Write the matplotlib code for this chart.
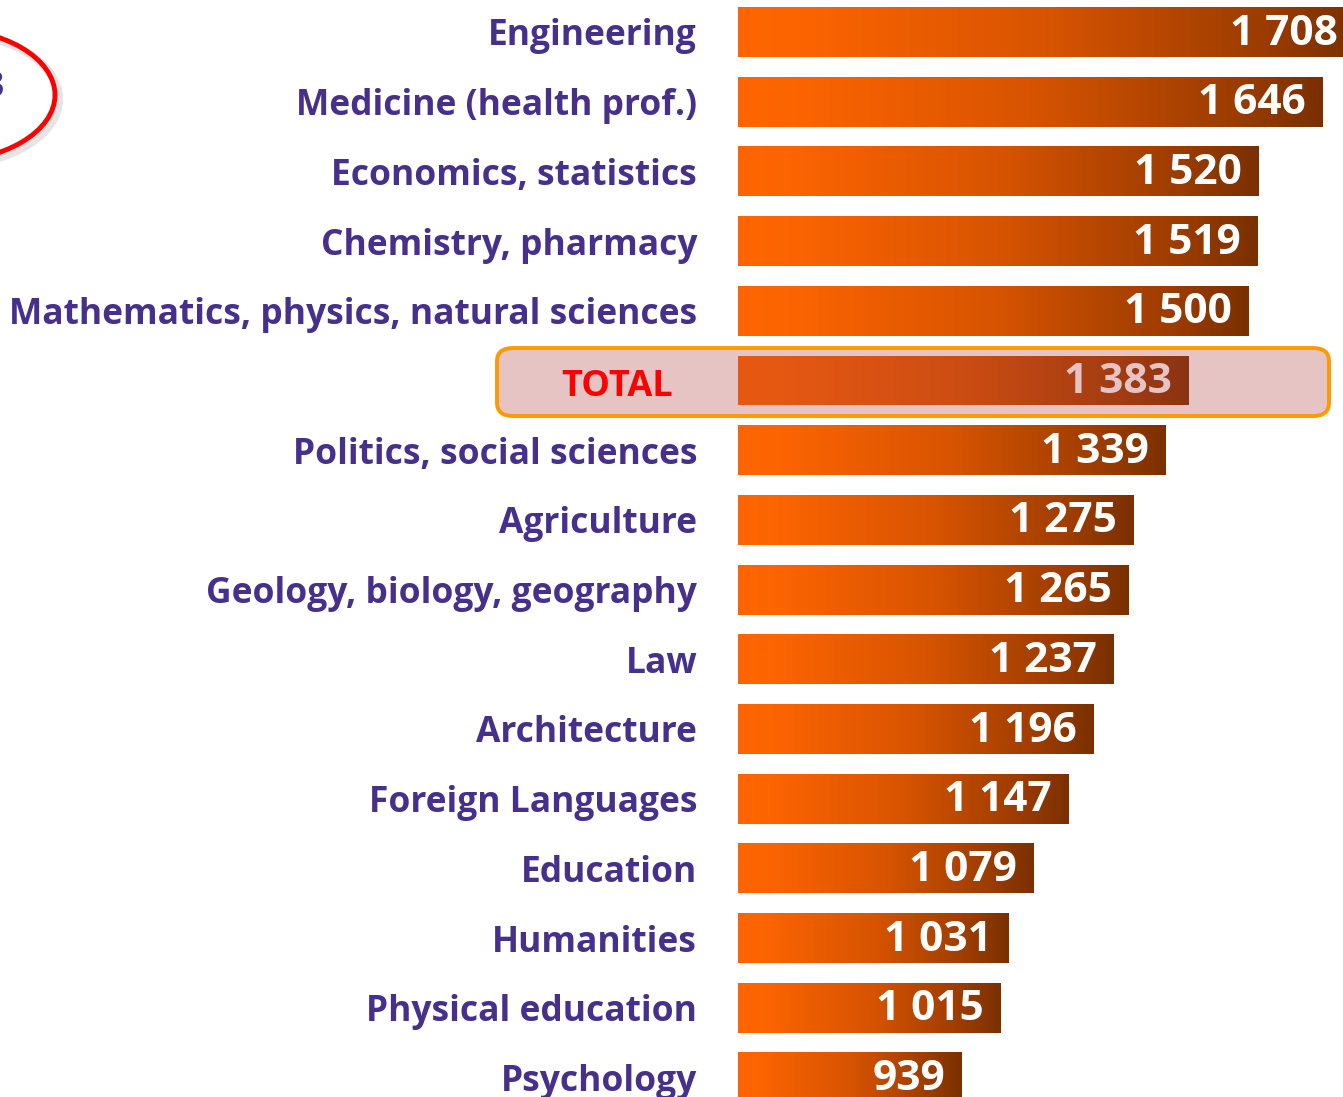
import numpy as np
import matplotlib
matplotlib.use("Agg")
import matplotlib.pyplot as plt
from matplotlib.colors import LinearSegmentedColormap
from matplotlib.patches import FancyBboxPatch, Ellipse

# data
categories = ["Engineering", "Medicine (health prof.)", "Economics, statistics",
              "Chemistry, pharmacy", "Mathematics, physics, natural sciences",
              "TOTAL", "Politics, social sciences", "Agriculture",
              "Geology, biology, geography", "Law", "Architecture",
              "Foreign Languages", "Education", "Humanities",
              "Physical education", "Psychology"]
values = [1708, 1646, 1520, 1519, 1500, 1383, 1339, 1275, 1265, 1237,
          1196, 1147, 1079, 1031, 1015, 939]
value_labels = ["1 708", "1 646", "1 520", "1 519", "1 500", "1 383", "1 339",
                "1 275", "1 265", "1 237", "1 196", "1 147", "1 079", "1 031",
                "1 015", "939"]
base = 500

W, H = 1343, 1097
fig = plt.figure(figsize=(W / 100, H / 100), dpi=100)
ax = fig.add_axes([738 / W, 0, 1 - 738 / W, 1])

font = "Open Sans"
label_col = "#46308C"

cmap = LinearSegmentedColormap.from_list(
    "og", [(0, "#FF6600"), (0.1, "#FC6400"), (0.5, "#D85400"),
           (0.85, "#9C3C00"), (1, "#7A3000")])
grad = np.linspace(0, 1, 256).reshape(1, -1)

ypos = np.arange(len(categories))
bars = ax.barh(ypos, np.array(values) - base, left=base, height=0.717,
               facecolor="none", edgecolor="none")
for b, v in zip(bars, values):
    y0 = b.get_y()
    im = ax.imshow(grad, extent=[base, v, y0 + b.get_height(), y0],
                   aspect="auto", cmap=cmap, interpolation="bilinear")
    im.set_clip_path(b)

for y, v, t in zip(ypos, values, value_labels):
    ax.annotate(t, xy=(v, y), xytext=(-12, -1.5), textcoords="offset points",
                ha="right", va="center", color="white", fontsize=30.5,
                fontweight="bold", family=font, annotation_clip=False)

ax.set_xlim(base, 1686)
ax.set_ylim(15.28, -0.459)
ax.set_yticks(ypos)
ax.set_yticklabels([c if c != "TOTAL" else "" for c in categories],
                   fontsize=25.5, fontweight="bold", family=font, color=label_col)
ax.tick_params(axis="y", length=0, pad=29.5)
ax.set_xticks([])
for s in ax.spines.values():
    s.set_visible(False)
ax.patch.set_visible(False)

# highlight box for TOTAL
def fx(px):
    return px / W

def fy(py):
    return 1 - py / H

box = FancyBboxPatch((fx(497), fy(416)), fx(1329) - fx(497), fy(348) - fy(416),
                     boxstyle="round,pad=0,rounding_size=0.012",
                     transform=fig.transFigure, facecolor=(177 / 255, 61 / 255, 61 / 255, 0.3),
                     edgecolor="#FF9900", linewidth=2.8, zorder=1)
fig.patches.append(box)
fig.text(fx(617), fy(387), "TOTAL", color="#FF0000", fontsize=26,
         fontweight="bold", family=font, ha="center", va="center", zorder=5)

# red ellipse at the top-left (partly outside)
sh = Ellipse((fx(-56), fy(99)), 230 / W, 134 / H, transform=fig.transFigure,
             facecolor="none", edgecolor=(0.5, 0.5, 0.5, 0.2), linewidth=6, zorder=1)
fig.patches.append(sh)
el = Ellipse((fx(-60), fy(95)), 230 / W, 134 / H, transform=fig.transFigure,
             facecolor="none", edgecolor="#FF0000", linewidth=3.5, zorder=2)
fig.patches.append(el)
fig.text(fx(4), fy(88), "3", color=label_col, fontsize=25.5, fontweight="bold",
         family=font, ha="right", va="center")

fig.savefig("out.png", dpi=100)
